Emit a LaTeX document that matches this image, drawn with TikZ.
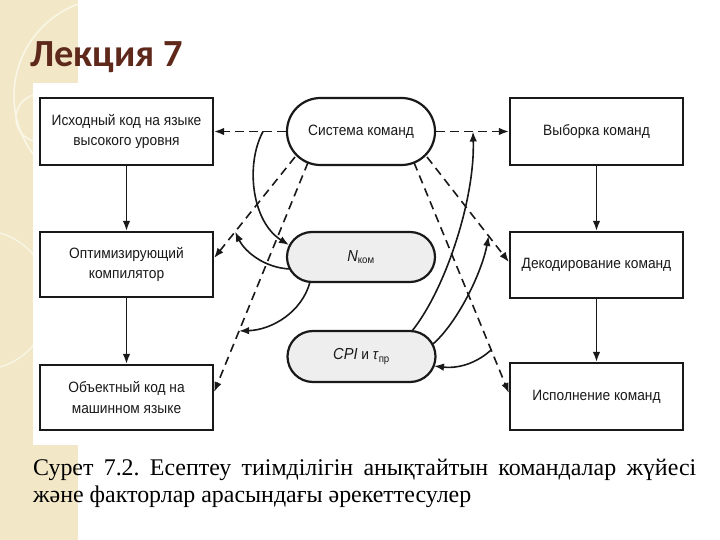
\documentclass[tikz,border=0pt]{standalone}
\usepackage{fontspec}
\setmainfont{Liberation Serif}
\newfontfamily\boxfont[FakeStretch=0.92]{Liberation Sans}
\newfontfamily\titlefont{Carlito}
\usetikzlibrary{arrows.meta,calc}
\definecolor{strip}{RGB}{242,232,200}
\definecolor{stripline}{RGB}{250,246,232}
\definecolor{titlebrown}{RGB}{94,40,26}
\definecolor{ink}{RGB}{25,25,25}
\definecolor{pillgray}{RGB}{238,238,238}
\tikzset{
  box/.style={draw=ink, line width=2.2bp, fill=white, minimum width=173bp, text=ink,
    font=\boxfont\fontsize{15}{21}\selectfont, align=center, inner sep=0pt},
  pill/.style={draw=ink, line width=2.2bp, minimum width=148bp, text=ink,
    font=\boxfont\fontsize{15}{21}\selectfont, inner sep=0pt},
  flow/.style={draw=ink, line width=1.6bp, -{Latex[length=10bp,width=7.5bp]}},
  dashflow/.style={flow, dash pattern=on 8.5bp off 5.5bp},
}
\begin{document}
\frenchspacing
\begin{tikzpicture}[x=1bp,y=-1bp]
\useasboundingbox (0,0) rectangle (720,540);
\fill[white] (0,0) rectangle (720,540);
\fill[strip] (0,0) rectangle (78,540);
\begin{scope}
  \clip (0,0) rectangle (78,540);
  \draw[stripline, line width=1.5bp] (112,96) circle[radius=98bp];
  \draw[stripline, line width=1.5bp] (40,118) circle[radius=24bp];
  \draw[stripline, line width=1.2bp] (-20,300) circle[radius=70bp];
\end{scope}
\fill[white] (33,83) rectangle (720,445);

\node[anchor=base west, text=titlebrown, font=\titlefont\bfseries\fontsize{38.5}{40}\selectfont, inner sep=0pt] (title) at (30,67) {Лекция 7};

\node[box, minimum height=67bp] (b1) at (126.5,131.5) {Исходный код на языке\\высокого уровня};
\node[box, minimum height=65bp] (b2) at (126.5,264.5) {Оптимизирующий\\компилятор};
\node[box, minimum height=65bp] (b3) at (126.5,397.5) {Объектный код на\\машинном языке};
\node[box, minimum height=67bp] (b4) at (596.5,131.5) {Выборка команд};
\node[box, minimum height=66bp] (b5) at (596.5,265) {Декодирование команд};
\node[box, minimum height=67bp] (b6) at (596.5,396.5) {Исполнение команд};
\node[pill, fill=white, minimum height=67bp, rounded corners=33.5bp] (sys) at (361,131.5) {Система команд};
\node[pill, fill=pillgray, minimum height=50bp, rounded corners=25bp] (nk) at (361,257) {{\fontsize{16}{16}\selectfont\textit{N}}\textsubscript{ком}};
\node[pill, fill=pillgray, minimum height=51bp, rounded corners=25.5bp] (cpi) at (361.5,356.5) {{\fontsize{16}{16}\selectfont\textit{CPI}} и \textit{τ}\textsubscript{пр}};

% solid vertical flows
\draw[flow] (b1) -- (b2);
\draw[flow] (b2) -- (b3);
\draw[flow] (b4) -- (b5);
\draw[flow] (b5) -- (b6);

% dashed connectors
\draw[dashflow] (sys.west) -- (b1.east);
\draw[dashflow] (sys.east) -- (b4.west);
\coordinate (sA) at (295,157);
\coordinate (eA) at ($(b2.east)+(0,-6.5)$);
\coordinate (sB) at (308,162.5);
\coordinate (eB) at ($(b3.east)+(0,-5.5)$);
\coordinate (sC) at (427,157);
\coordinate (eC) at ($(b5.west)+(0,-3)$);
\coordinate (sD) at (414,162.5);
\coordinate (eD) at ($(b6.west)+(0,-3.5)$);
\draw[dashflow] (sA) -- (eA);
\draw[dashflow] (sB) -- (eB);
\draw[dashflow] (sC) -- (eC);
\draw[dashflow] (sD) -- (eD);

% points on the dashed lines
\coordinate (pH1) at (263,131.5);
\coordinate (pH2) at (473,131.5);
\coordinate (pA) at ($(sA)!0.74!(eA)$);
\coordinate (pB) at ($(sB)!0.734!(eB)$);
\coordinate (pC) at ($(sC)!0.752!(eC)$);
\coordinate (pD) at ($(sD)!0.813!(eD)$);

% points on the pills
\coordinate (nkIn) at (289,245);
\coordinate (nkOut1) at (290,269);
\coordinate (nkOut2) at (310,282);
\coordinate (cpiOut1) at (412,331);
\coordinate (cpiOut2) at (433,344);
\coordinate (cpiIn) at (434,366);

% solid curved flows
\draw[flow] (pH1) .. controls (245,165) and (252,222) .. (nkIn);
\draw[flow] (nkOut1) .. controls (265,268) and (245,252) .. (pA);
\draw[flow] (nkOut2) .. controls (302,312) and (272,330) .. (pB);
\draw[flow] (cpiOut1) .. controls (445,290) and (475,200) .. (pH2);
\draw[flow] (cpiOut2) .. controls (458,322) and (482,272) .. (pC);
\draw[flow] (pD) .. controls (478,362) and (460,369) .. (cpiIn);

% caption
\node[anchor=base west, inner sep=0pt, font=\fontsize{24}{28}\selectfont] (cap1) at (33,475)
  {\makebox[663bp][s]{Сурет 7.2. Есептеу тиімділігін анықтайтын командалар жүйесі}};
\node[anchor=base west, inner sep=0pt, font=\fontsize{24}{28}\selectfont] (cap2) at (33,502)
  {және факторлар арасындағы әрекеттесулер};
\end{tikzpicture}
\end{document}
